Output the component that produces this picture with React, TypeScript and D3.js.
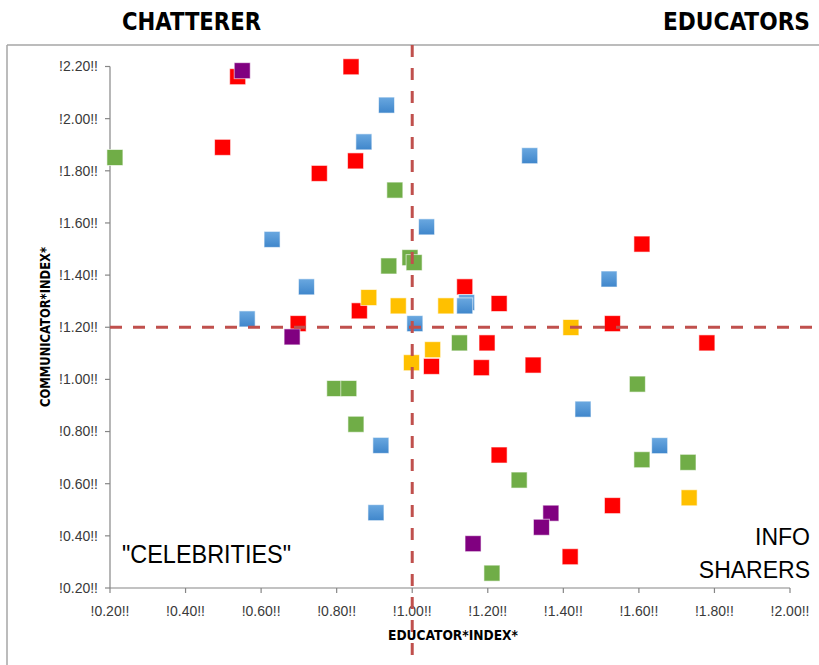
import React, { useEffect } from "react";
import * as d3 from "d3";

// [educator index, communicator index] per dot, grouped by colour
const redPoints: [number, number][] = [
  [0.538, 2.161], [0.838, 2.199], [0.498, 1.89], [0.85, 1.838], [0.754, 1.79],
  [0.86, 1.263], [0.698, 1.214], [1.608, 1.519], [1.139, 1.355], [1.23, 1.291],
  [1.53, 1.214], [1.198, 1.14], [1.78, 1.14], [1.051, 1.05], [1.183, 1.045],
  [1.32, 1.055], [1.23, 0.71], [1.53, 0.516], [1.418, 0.32],
];
const bluePoints: [number, number][] = [
  [0.932, 2.052], [0.872, 1.911], [1.038, 1.585], [0.629, 1.537], [0.72, 1.355],
  [0.563, 1.232], [1.007, 1.214], [1.311, 1.858], [1.521, 1.385], [1.144, 1.295],
  [1.139, 1.282], [1.452, 0.886], [1.655, 0.746], [0.917, 0.747], [0.904, 0.489],
];
const greenPoints: [number, number][] = [
  [0.213, 1.851], [0.954, 1.726], [0.994, 1.467], [1.005, 1.448], [0.938, 1.435],
  [1.125, 1.14], [1.596, 0.982], [1.608, 0.692], [1.73, 0.682], [1.283, 0.614],
  [1.211, 0.257], [0.795, 0.965], [0.832, 0.965], [0.851, 0.828],
];
const goldPoints: [number, number][] = [
  [0.885, 1.314], [0.963, 1.282], [1.089, 1.282], [1.42, 1.199], [1.054, 1.114],
  [0.998, 1.064], [1.733, 0.546],
];
const purplePoints: [number, number][] = [
  [0.55, 2.184], [0.682, 1.163], [1.367, 0.487], [1.342, 0.433], [1.161, 0.37],
];

const xTicks = [0.2, 0.4, 0.6, 0.8, 1.0, 1.2, 1.4, 1.6, 1.8, 2.0];
const yTicks = [0.2, 0.4, 0.6, 0.8, 1.0, 1.2, 1.4, 1.6, 1.8, 2.0, 2.2];
const xSplit = 1.0;
const ySplit = 1.2;

const series = [
  { name: "red", fill: "#FF0000", points: redPoints },
  { name: "blue", fill: "url(#blueGrad)", points: bluePoints },
  { name: "green", fill: "#70AD47", points: greenPoints },
  { name: "gold", fill: "#FFC000", points: goldPoints },
  { name: "purple", fill: "#800080", points: purplePoints },
];

const W = 819;
const H = 665;

export default function App() {
  useEffect(() => {
    document.body.style.margin = "0";
  }, []);

  const x = d3.scaleLinear().domain([0.2, 2.0]).range([110, 790]);
  const y = d3.scaleLinear().domain([0.2, 2.2]).range([588, 66.5]);
  const fmt = (v: number) => `!${d3.format(".2f")(v)}!!`;
  const m = 16;

  const boldNarrow = "'Liberation Sans Narrow', 'DejaVu Sans Condensed', 'Liberation Sans', sans-serif";
  const plain = "'Liberation Sans', Arial, sans-serif";

  return (
    <svg width={W} height={H} style={{ display: "block", background: "#fff" }}>
      <defs>
        <linearGradient id="blueGrad" x1="0" y1="0" x2="0" y2="1">
          <stop offset="0" stopColor="#6AA8E0" />
          <stop offset="1" stopColor="#3F86CB" />
        </linearGradient>
      </defs>

      {/* chart frame */}
      <line x1={7} x2={W} y1={45} y2={45} stroke="#A6A6A6" strokeWidth={1.5} />
      <line x1={7} x2={7} y1={45} y2={H} stroke="#A6A6A6" strokeWidth={1.5} />

      {/* quadrant titles */}
      <text x={122} y={30} fontFamily={boldNarrow} fontWeight="bold" fontSize={25}
        textLength={139} lengthAdjust="spacingAndGlyphs">CHATTERER</text>
      <text x={663} y={30} fontFamily={boldNarrow} fontWeight="bold" fontSize={25}
        textLength={147} lengthAdjust="spacingAndGlyphs">EDUCATORS</text>

      {/* axes */}
      <g stroke="#868686" strokeWidth={1.2}>
        <line x1={x(0.2)} x2={x(0.2)} y1={y(2.2)} y2={y(0.2)} />
        <line x1={x(0.2)} x2={x(2.0)} y1={y(0.2)} y2={y(0.2)} />
        {yTicks.map((t) => (
          <line key={"yt" + t} x1={x(0.2) - 5} x2={x(0.2)} y1={y(t)} y2={y(t)} />
        ))}
        {xTicks.map((t) => (
          <line key={"xt" + t} x1={x(t)} x2={x(t)} y1={y(0.2)} y2={y(0.2) + 5} />
        ))}
      </g>
      <g fontFamily={plain} fontSize={14} fill="#3A3A3A">
        {yTicks.map((t) => (
          <text key={"yl" + t} x={98} y={y(t)} dy="0.35em" textAnchor="end">{fmt(t)}</text>
        ))}
        {xTicks.map((t) => (
          <text key={"xl" + t} x={x(t)} y={616} textAnchor="middle">{fmt(t)}</text>
        ))}
      </g>

      {/* markers */}
      {series.map((s) => (
        <g key={s.name}>
          {s.points.map(([a, b], i) => (
            <rect key={i} x={x(a) - m / 2} y={y(b) - m / 2} width={m} height={m}
              fill={s.fill} stroke="#ffffff" strokeOpacity={0.6} strokeWidth={1} />
          ))}
        </g>
      ))}

      {/* quadrant split lines */}
      <g stroke="#C0504D" strokeWidth={3} strokeDasharray="12 11">
        <line x1={x(xSplit)} x2={x(xSplit)} y1={45} y2={H} />
        <line x1={x(0.2)} x2={813} y1={y(ySplit)} y2={y(ySplit)} />
      </g>

      {/* axis titles */}
      <text x={453} y={640} textAnchor="middle" fontFamily={boldNarrow} fontWeight="bold"
        fontSize={14} textLength={130} lengthAdjust="spacingAndGlyphs">EDUCATOR*INDEX*</text>
      <text transform="translate(50,327) rotate(-90)" textAnchor="middle" fontFamily={boldNarrow}
        fontWeight="bold" fontSize={14} textLength={160} lengthAdjust="spacingAndGlyphs">COMMUNICATOR*INDEX*</text>

      {/* corner labels */}
      <text x={122} y={563} fontFamily={plain} fontSize={25} textLength={169}
        lengthAdjust="spacingAndGlyphs">"CELEBRITIES"</text>
      <text x={810} y={545} textAnchor="end" fontFamily={plain} fontSize={23}>INFO</text>
      <text x={810} y={578} textAnchor="end" fontFamily={plain} fontSize={23}>SHARERS</text>
    </svg>
  );
}
